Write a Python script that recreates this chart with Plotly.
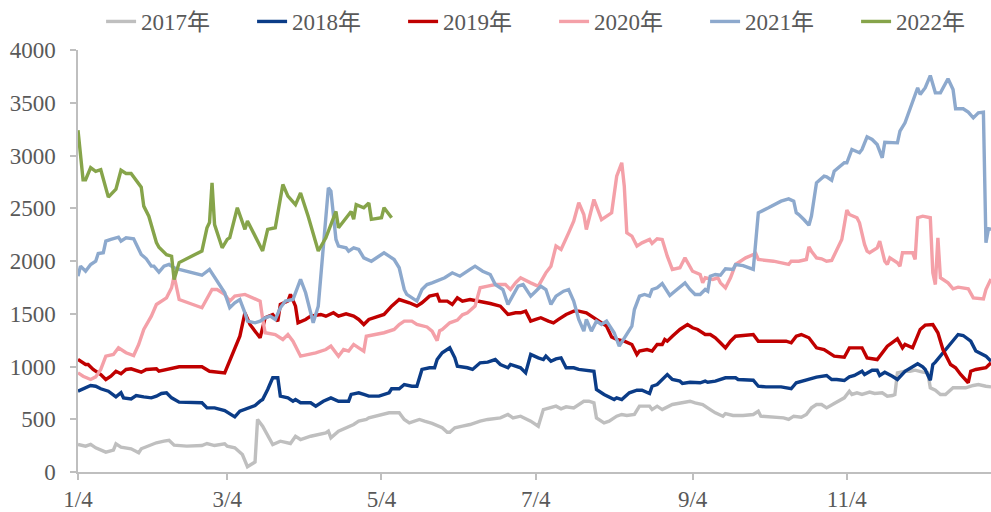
import pandas as pd
import plotly.graph_objects as go

YEAR_BASE = "2021/"

# ---------------- data ----------------
d2017 = ["1/4","1/7","1/9","1/11","1/15","1/18","1/19","1/21","1/25","1/28","1/29","2/1","2/4","2/7","2/9","2/11","2/16","2/22","2/24","2/27","3/3","3/4","3/7","3/10","3/12","3/15","3/16","3/18","3/22","3/25","3/27","3/29","3/31","4/2","4/6","4/9","4/12","4/13","4/14","4/17","4/20","4/23","4/25","4/28","4/29","5/2","5/5","5/7","5/11","5/13","5/15","5/17","5/19","5/21","5/24","5/28","5/30","5/31","6/2","6/5","6/8","6/12","6/15","6/20","6/23","6/25","6/28","7/2","7/5","7/7","7/10","7/12","7/14","7/16","7/19","7/23","7/25","7/27","7/28","7/31","8/2","8/5","8/7","8/9","8/12","8/14","8/18","8/19","8/21","8/23","8/27","8/30","9/3","9/5","9/8","9/11","9/13","9/16","9/17","9/20","9/24","9/28","9/30","10/1","10/6","10/10","10/12","10/14","10/17","10/19","10/21","10/23","10/25","10/27","10/30","11/3","11/5","11/6","11/8","11/10","11/13","11/15","11/18","11/20","11/22","11/23","11/24","11/27","11/29","12/1","12/4","12/6","12/7","12/9","12/11","12/13","12/16","12/18","12/21","12/24","12/26","12/29","12/31"]
v2017 = [261,245,261,229,188,207,267,235,220,182,220,245,277,292,301,254,245,251,270,251,267,245,229,166,50,95,498,434,261,292,277,270,339,308,339,355,371,387,324,387,419,450,482,498,513,529,545,561,561,498,466,482,498,482,460,419,377,377,419,434,450,482,498,513,545,513,529,482,434,592,608,624,599,618,608,671,671,656,513,466,482,529,545,536,545,624,624,592,624,592,640,656,671,656,640,592,561,529,554,536,536,545,576,529,523,513,498,529,520,545,608,640,640,608,649,703,766,735,751,735,757,744,751,719,725,735,940,955,955,965,946,940,798,775,735,735,798,798,798,820,829,813,807]

d2018 = ["1/4","1/7","1/9","1/11","1/13","1/16","1/19","1/21","1/22","1/25","1/27","1/30","2/2","2/4","2/6","2/8","2/10","2/13","2/22","2/24","2/27","3/3","3/5","3/7","3/9","3/12","3/15","3/17","3/18","3/20","3/22","3/24","3/25","3/28","3/30","3/31","4/2","4/6","4/8","4/11","4/14","4/17","4/21","4/22","4/25","4/27","4/29","5/3","5/7","5/8","5/11","5/13","5/16","5/18","5/20","5/23","5/25","5/26","5/28","5/31","6/2","6/3","6/7","6/9","6/12","6/15","6/18","6/20","6/23","6/24","6/28","6/30","7/2","7/5","7/7","7/8","7/10","7/12","7/14","7/16","7/19","7/21","7/27","7/28","7/31","8/4","8/5","8/7","8/10","8/13","8/15","8/18","8/19","8/21","8/24","8/25","8/27","8/30","8/31","9/3","9/7","9/9","9/10","9/13","9/17","9/21","9/22","9/28","9/30","10/3","10/9","10/13","10/15","10/18","10/20","10/23","10/27","10/29","10/31","11/3","11/5","11/7","11/10","11/11","11/14","11/16","11/17","11/19","11/22","11/24","11/27","11/30","12/2","12/4","12/5","12/7","12/8","12/9","12/13","12/15","12/18","12/20","12/23","12/25","12/29","12/31"]
v2018 = [766,798,820,813,789,766,712,751,703,693,725,712,703,719,744,751,703,662,656,608,608,583,550,523,576,600,630,671,687,782,893,893,719,703,671,687,656,656,624,671,703,671,671,735,751,735,719,719,751,789,789,829,813,813,972,988,988,1066,1130,1177,1082,1003,988,972,1035,1041,1066,1019,988,1019,988,940,1114,1082,1066,1098,1050,1072,1082,988,988,972,955,782,735,687,703,687,751,775,775,744,813,829,893,924,877,861,839,851,846,861,851,861,893,893,877,870,813,807,807,789,846,867,877,899,915,877,877,867,902,915,955,924,965,965,915,946,908,877,955,997,1026,997,972,870,1019,1041,1161,1225,1303,1294,1240,1146,1098,1050]

d2019 = ["1/4","1/7","1/8","1/10","1/13","1/15","1/17","1/19","1/21","1/23","1/25","1/29","1/31","2/4","2/5","2/9","2/11","2/13","2/22","2/25","3/3","3/5","3/7","3/9","3/11","3/13","3/15","3/17","3/19","3/22","3/24","3/25","3/28","3/29","3/31","4/1","4/4","4/6","4/10","4/12","4/15","4/17","4/20","4/23","4/25","4/27","4/29","5/3","5/5","5/8","5/11","5/15","5/18","5/20","5/23","5/26","5/27","5/30","6/1","6/3","6/5","6/8","6/12","6/16","6/20","6/23","6/26","6/28","6/30","7/2","7/4","7/6","7/9","7/11","7/13","7/16","7/19","7/21","7/24","7/26","7/28","7/30","8/1","8/3","8/5","8/8","8/11","8/13","8/14","8/17","8/19","8/21","8/23","8/24","8/25","8/27","8/30","9/2","9/4","9/6","9/9","9/11","9/13","9/15","9/17","9/19","9/21","9/28","9/30","10/6","10/11","10/13","10/15","10/17","10/20","10/23","10/26","10/30","11/3","11/5","11/10","11/12","11/16","11/20","11/24","11/26","11/27","11/30","12/3","12/5","12/8","12/10","12/12","12/15","12/17","12/19","12/22","12/23","12/25","12/29","12/31"]
v2019 = [1066,1019,1019,972,924,877,908,955,931,972,978,946,972,978,955,978,988,997,997,955,940,1050,1161,1287,1509,1398,1335,1272,1462,1493,1430,1588,1620,1683,1572,1414,1446,1477,1493,1477,1509,1477,1499,1477,1446,1398,1446,1477,1493,1572,1635,1604,1572,1604,1667,1683,1620,1620,1588,1651,1620,1635,1620,1597,1572,1493,1509,1509,1525,1430,1446,1462,1430,1414,1446,1493,1525,1525,1509,1477,1446,1414,1382,1280,1256,1240,1209,1114,1146,1161,1146,1209,1209,1256,1240,1287,1351,1398,1367,1351,1303,1303,1272,1225,1177,1240,1287,1303,1240,1240,1240,1225,1287,1303,1272,1177,1161,1098,1088,1177,1177,1082,1066,1193,1262,1177,1209,1177,1351,1392,1398,1320,1161,1019,988,924,846,955,972,988,1035]

d2020 = ["1/4","1/6","1/9","1/11","1/13","1/15","1/18","1/20","1/23","1/26","1/28","1/30","2/2","2/4","2/8","2/10","2/11","2/13","2/22","2/26","2/28","3/3","3/5","3/7","3/11","3/14","3/17","3/18","3/19","3/23","3/26","3/28","3/30","4/2","4/6","4/8","4/12","4/14","4/17","4/19","4/21","4/23","4/25","4/27","4/28","5/2","5/5","5/9","5/11","5/13","5/16","5/18","5/22","5/24","5/26","5/27","5/28","5/31","6/3","6/5","6/7","6/10","6/12","6/15","6/18","6/22","6/24","6/26","6/28","7/2","7/5","7/8","7/10","7/12","7/14","7/17","7/19","7/21","7/23","7/24","7/27","7/30","8/3","8/5","8/7","8/8","8/9","8/11","8/13","8/15","8/18","8/19","8/21","8/23","8/25","8/27","8/30","9/1","9/3","9/4","9/7","9/8","9/9","9/12","9/14","9/15","9/17","9/19","9/21","9/25","9/29","9/30","10/6","10/12","10/13","10/16","10/19","10/20","10/21","10/23","10/25","10/27","10/29","11/2","11/4","11/5","11/8","11/9","11/11","11/12","11/13","11/16","11/17","11/19","11/20","11/21","11/24","11/25","11/26","11/30","12/1","12/2","12/4","12/7","12/8","12/9","12/10","12/11","12/14","12/16","12/18","12/22","12/24","12/28","12/29","12/31"]
v2020 = [940,908,877,902,972,1098,1114,1177,1130,1104,1209,1351,1477,1588,1651,1746,1860,1635,1557,1730,1730,1683,1620,1667,1683,1651,1620,1454,1320,1303,1256,1303,1240,1098,1114,1130,1161,1193,1098,1161,1146,1209,1177,1146,1287,1303,1320,1351,1398,1430,1430,1398,1375,1335,1245,1340,1351,1414,1440,1490,1509,1572,1746,1761,1777,1777,1730,1793,1841,1793,1761,1888,1951,2141,2109,2267,2378,2552,2441,2299,2583,2393,2457,2804,2931,2709,2267,2236,2141,2172,2204,2166,2210,2204,2046,1920,1936,2030,1951,1903,1872,1793,1841,1825,1841,1793,1746,1841,1967,2030,2071,2014,1998,1967,1998,1998,2014,2134,2093,2030,2021,1998,2005,2204,2482,2441,2410,2362,2157,2093,2078,2125,2188,1998,1967,2030,1983,1951,2078,2078,2014,2410,2425,2410,1888,1777,2220,1841,1793,1737,1752,1737,1651,1641,1730,1830]

d2021 = ["1/4","1/5","1/7","1/9","1/11","1/12","1/14","1/15","1/17","1/20","1/21","1/23","1/26","1/27","1/29","1/31","2/2","2/3","2/5","2/7","2/9","2/11","2/13","2/22","2/25","3/3","3/5","3/7","3/9","3/11","3/12","3/15","3/17","3/19","3/21","3/23","3/25","3/27","3/30","4/2","4/4","4/6","4/7","4/9","4/11","4/13","4/14","4/16","4/17","4/20","4/21","4/23","4/25","4/27","4/30","5/3","5/5","5/7","5/9","5/11","5/13","5/14","5/16","5/18","5/20","5/22","5/24","5/29","6/1","6/4","6/8","6/10","6/13","6/16","6/18","6/21","6/23","6/25","6/27","6/29","7/2","7/4","7/6","7/8","7/10","7/12","7/15","7/17","7/19","7/21","7/23","7/24","7/26","7/28","7/30","8/1","8/4","8/6","8/8","8/11","8/12","8/14","8/16","8/18","8/19","8/21","8/23","8/26","8/28","9/1","9/3","9/5","9/7","9/9","9/10","9/11","9/13","9/15","9/17","9/20","9/21","9/24","9/28","9/30","10/4","10/9","10/12","10/14","10/15","10/16","10/18","10/20","10/21","10/23","10/26","10/27","10/29","10/30","11/3","11/4","11/6","11/9","11/10","11/12","11/14","11/16","11/18","11/19","11/24","11/25","11/27","12/2","12/3","12/5","12/7","12/9","12/11","12/14","12/16","12/17","12/20","12/22","12/24","12/26","12/28","12/29","12/30","12/31"]
v2021 = [1856,1951,1903,1967,1998,2071,2078,2188,2204,2226,2188,2220,2210,2157,2062,2021,1951,1951,1894,1951,1967,1936,1920,1865,1920,1699,1557,1604,1635,1509,1430,1414,1430,1462,1477,1446,1557,1620,1635,1825,1699,1509,1414,1572,2109,2694,2662,2204,2141,2125,2093,2125,2109,2030,1998,2046,2078,2046,2014,1936,1730,1683,1651,1620,1730,1777,1793,1841,1888,1856,1920,1951,1903,1872,1777,1730,1588,1683,1761,1777,1667,1714,1761,1730,1588,1667,1714,1730,1620,1446,1335,1446,1335,1430,1398,1430,1320,1193,1272,1382,1540,1667,1683,1667,1730,1746,1787,1673,1714,1793,1730,1683,1683,1730,1714,1856,1872,1865,1926,1920,1967,1957,1920,2457,2504,2567,2589,2567,2457,2441,2393,2339,2425,2741,2804,2798,2766,2851,2931,2931,3057,3026,3057,3177,3152,3104,2978,3126,3120,3231,3310,3642,3578,3642,3758,3594,3594,3727,3626,3443,3443,3411,3357,3405,3411,2173,2305,2300]

d2022 = ["1/4","1/6","1/7","1/9","1/11","1/13","1/16","1/19","1/21","1/23","1/25","1/28","1/29","1/30","2/1","2/4","2/5","2/8","2/10","2/11","2/13","2/22","2/24","2/25","2/26","2/27","3/2","3/4","3/5","3/8","3/11","3/12","3/18","3/20","3/23","3/26","3/28","3/31","4/2","4/5","4/9","4/12","4/16","4/17","4/20","4/22","4/23","4/24","4/27","4/29","4/30","5/4","5/5","5/8"]
v2022 = [3240,2770,2770,2885,2850,2865,2605,2680,2860,2830,2830,2725,2700,2520,2425,2175,2130,2060,2045,1825,1985,2095,2315,2365,2740,2345,2125,2205,2220,2505,2300,2380,2095,2300,2315,2725,2615,2535,2645,2425,2095,2220,2470,2315,2410,2470,2395,2535,2505,2550,2395,2410,2505,2410]

tick_dates = ["1/4", "3/4", "5/4", "7/4", "9/4", "11/4"]

series = [
    ("2017年", d2017, v2017, "#BFBFBF"),
    ("2018年", d2018, v2018, "#0B3C87"),
    ("2019年", d2019, v2019, "#C00000"),
    ("2020年", d2020, v2020, "#F4A0A8"),
    ("2021年", d2021, v2021, "#8DA9CD"),
    ("2022年", d2022, v2022, "#86A44A"),
]


def to_dt(lst):
    return pd.to_datetime([YEAR_BASE + s for s in lst], format="%Y/%m/%d")


fig = go.Figure()
for name, d, v, c in series:
    fig.add_trace(go.Scatter(
        x=to_dt(d), y=v, name=name, mode="lines",
        line=dict(color=c, width=3.4),
    ))

axis_font = dict(family="Liberation Serif, Times New Roman, serif", size=23, color="#595959")

fig.update_layout(
    width=991, height=512,
    margin=dict(l=78, r=0, t=50, b=40, autoexpand=False),
    paper_bgcolor="white", plot_bgcolor="white",
    showlegend=True,
    legend=dict(
        orientation="h", xref="container", yref="container",
        x=0.102, xanchor="left", y=1.0, yanchor="top",
        font=dict(family="Liberation Serif, Noto Sans CJK SC, serif", size=23, color="#595959"),
        entrywidth=106, entrywidthmode="pixels",
        bgcolor="rgba(0,0,0,0)", borderwidth=0,
        tracegroupgap=0, itemwidth=30,
    ),
    xaxis=dict(
        type="date", automargin=False,
        range=[to_dt(["1/4"])[0], to_dt(["12/31"])[0]],
        tickvals=to_dt(tick_dates), ticktext=tick_dates,
        showgrid=False, zeroline=False,
        showline=True, linecolor="#BFBFBF", linewidth=1.5,
        ticks="outside", ticklen=6, tickcolor="#BFBFBF", tickwidth=1.5,
        tickfont=axis_font,
    ),
    yaxis=dict(
        automargin=False,
        range=[0, 4000], dtick=500, tick0=0,
        showgrid=False, zeroline=False,
        showline=True, linecolor="#BFBFBF", linewidth=1.5,
        ticks="outside", ticklen=6, tickcolor="#BFBFBF", tickwidth=1.5,
        ticklabelstandoff=10,
        tickfont=axis_font,
    ),
)

fig.write_html(
    "out.html",
    config={"displayModeBar": False},
    post_script="document.body.style.margin='0px';document.body.style.overflow='hidden';",
)
